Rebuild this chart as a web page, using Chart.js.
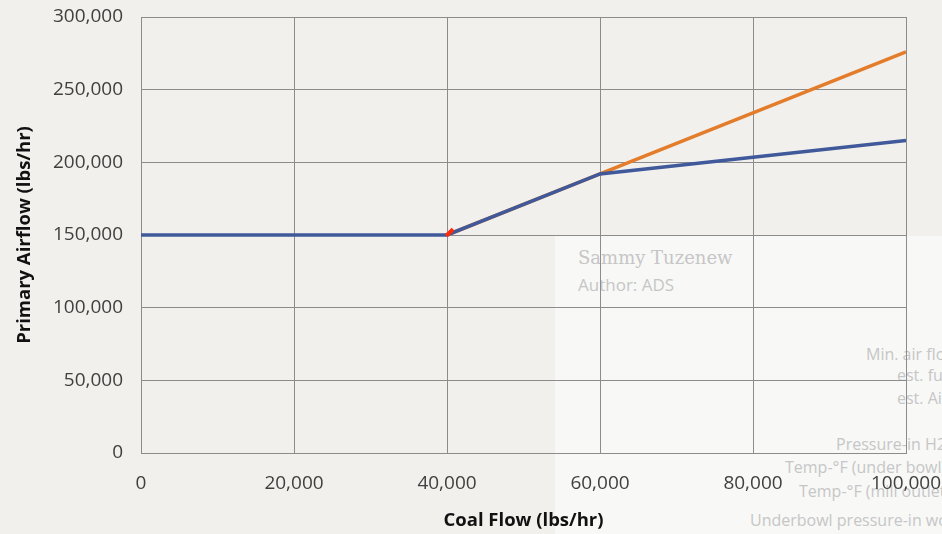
<!DOCTYPE html>
<html>
<head>
<meta charset="utf-8">
<script src="https://cdn.jsdelivr.net/npm/chart.js@4.4.1/dist/chart.umd.min.js"></script>
<style>
  html, body { margin: 0; padding: 0; overflow: hidden; }
  body { width: 942px; height: 534px; background: #f2f0ec; position: relative; font-family: "Open Sans", sans-serif; }
  #panel { position: absolute; left: 555px; top: 236px; width: 387px; height: 298px; background: #f8f8f7; }
  .wm { position: absolute; color: #c6c6c6; white-space: nowrap; font-size: 16px; }
  #wrap { position: absolute; left: 0; top: 0; width: 942px; height: 534px; }
</style>
</head>
<body>
<div id="panel"></div>
<div class="wm" style="left:578px;top:247px;font-family:'DejaVu Serif',serif;font-size:18px;">Sammy Tuzenew</div>
<div class="wm" style="left:578px;top:273px;font-size:17px;">Author: ADS</div>
<div class="wm" style="left:866px;top:343px;">Min. air flow</div>
<div class="wm" style="left:897px;top:364px;">est. fuel</div>
<div class="wm" style="left:897px;top:387px;">est. Air</div>
<div class="wm" style="left:836px;top:433px;">Pressure-in H2O</div>
<div class="wm" style="left:785px;top:456px;">Temp-°F (under bowl)</div>
<div class="wm" style="left:799px;top:480px;">Temp-°F (mill outlet)</div>
<div class="wm" style="left:750px;top:509px;">Underbowl pressure-in wc</div>
<div id="wrap"><canvas id="chart" width="942" height="534"></canvas></div>
<script>
// values
var coalFlow = [0, 40000, 60000, 100000];
var airflowBlue = [150000, 150000, 192000, 215000];
var coalFlowOrange = [40000, 60000, 100000];
var airflowOrange = [150000, 192000, 276000];
var coalFlowRed = [39900, 40800];
var airflowRed = [149500, 154000];
var xTicks = [0, 20000, 40000, 60000, 80000, 100000];
var yTicks = [0, 50000, 100000, 150000, 200000, 250000, 300000];

function pts(xs, ys) {
    return xs.map(function(x, i) { return {x: x, y: ys[i]}; });
}

var tickFont = {family: "Open Sans", size: 19};
var titleFont = {family: "Open Sans", size: 18.5, weight: "bold"};

var ctx = document.getElementById("chart").getContext("2d");
var chart = new Chart(ctx, {
    type: "line",
    data: {
        datasets: [{
            label: "red",
            data: pts(coalFlowRed, airflowRed),
            borderColor: "#ff2a0a",
            borderWidth: 4,
            pointRadius: 0
        }, {
            label: "blue",
            data: pts(coalFlow, airflowBlue),
            borderColor: "#40599b",
            borderWidth: 3.5,
            pointRadius: 0
        }, {
            label: "orange",
            data: pts(coalFlowOrange, airflowOrange),
            borderColor: "#e37c2b",
            borderWidth: 3.5,
            pointRadius: 0
        }]
    },
    options: {
        responsive: false,
        animation: false,
        layout: {padding: {left: 0, right: 36, top: 17, bottom: 0}},
        plugins: {legend: {display: false}, tooltip: {enabled: false}},
        scales: {
            x: {
                type: "linear",
                min: 0, max: 100000,
                afterBuildTicks: function(s) { s.ticks = xTicks.map(function(v) { return {value: v}; }); },
                afterFit: function(s) { s.height = 81; s.paddingLeft = 0; s.paddingRight = 0; },
                ticks: {
                    font: tickFont, color: "#404040", padding: 19,
                    callback: function(v) { return v.toLocaleString("en-US"); }
                },
                grid: {color: "#8c8c8c", lineWidth: 1, tickLength: 0},
                border: {color: "#8c8c8c"},
                title: {display: true, text: "Coal Flow (lbs/hr)", font: titleFont, color: "#111", padding: {top: 0, bottom: 2}}
            },
            y: {
                min: 0, max: 300000,
                afterBuildTicks: function(s) { s.ticks = yTicks.map(function(v) { return {value: v}; }); },
                afterFit: function(s) { s.width = 141; s.paddingTop = 0; s.paddingBottom = 0; },
                ticks: {
                    font: tickFont, color: "#404040", padding: 18,
                    callback: function(v) { return v.toLocaleString("en-US"); }
                },
                grid: {color: "#8c8c8c", lineWidth: 1, tickLength: 0},
                border: {color: "#8c8c8c"},
                title: {display: true, text: "Primary Airflow (lbs/hr)", font: titleFont, color: "#111", padding: {top: 14, bottom: 0}}
            }
        }
    }
});
</script>
</body>
</html>
